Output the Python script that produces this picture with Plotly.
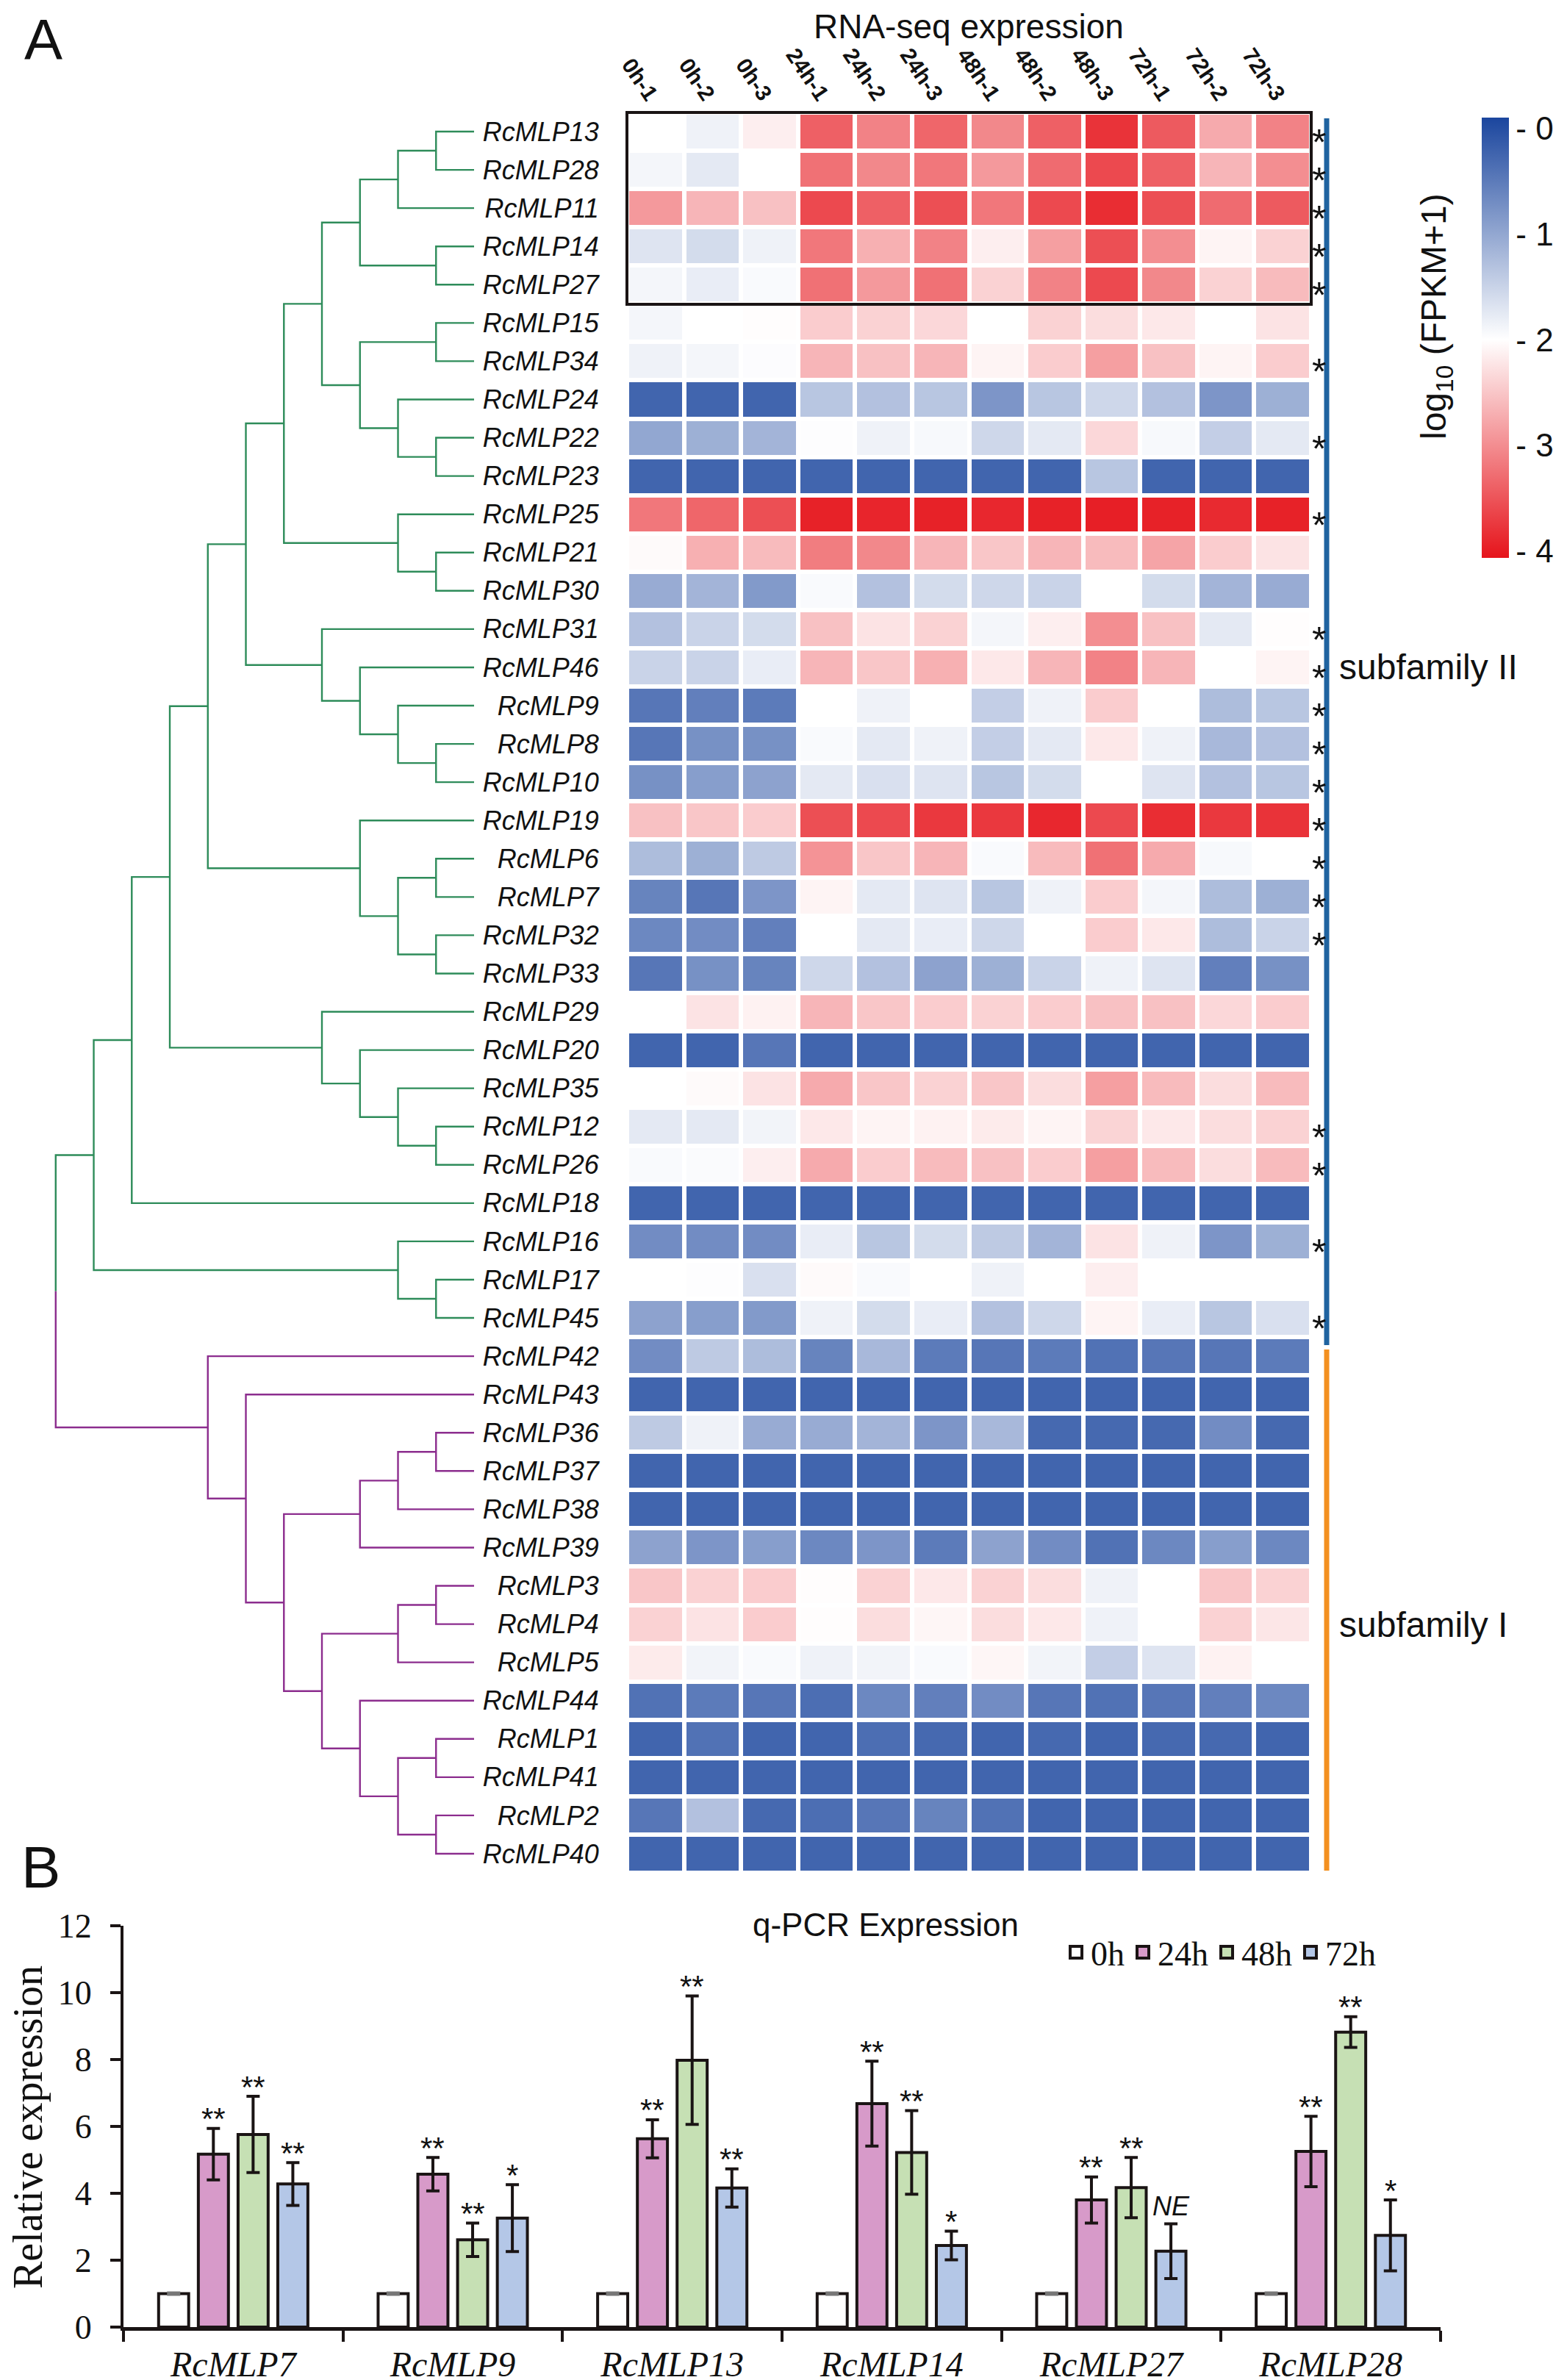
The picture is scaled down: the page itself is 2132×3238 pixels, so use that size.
import plotly.graph_objects as go

W, H = 2132, 3238
def px(x):
    return x / W
def py(y):
    return 1 - y / H

SANS = "Liberation Sans, Arial, sans-serif"
SERIF = "Liberation Serif, Times New Roman, serif"

# ---------------- Panel A data ----------------
samples = ["0h-1", "0h-2", "0h-3", "24h-1", "24h-2", "24h-3",
           "48h-1", "48h-2", "48h-3", "72h-1", "72h-2", "72h-3"]

genes = ["RcMLP13", "RcMLP28", "RcMLP11", "RcMLP14", "RcMLP27", "RcMLP15", "RcMLP34",
         "RcMLP24", "RcMLP22", "RcMLP23", "RcMLP25", "RcMLP21", "RcMLP30", "RcMLP31",
         "RcMLP46", "RcMLP9", "RcMLP8", "RcMLP10", "RcMLP19", "RcMLP6", "RcMLP7",
         "RcMLP32", "RcMLP33", "RcMLP29", "RcMLP20", "RcMLP35", "RcMLP12", "RcMLP26",
         "RcMLP18", "RcMLP16", "RcMLP17", "RcMLP45", "RcMLP42", "RcMLP43", "RcMLP36",
         "RcMLP37", "RcMLP38", "RcMLP39", "RcMLP3", "RcMLP4", "RcMLP5", "RcMLP44",
         "RcMLP1", "RcMLP41", "RcMLP2", "RcMLP40"]

# log10(FPKM+1), one row per gene (same order as genes)
log_fpkm = [
    [2.00, 1.85, 2.15, 3.40, 3.10, 3.35, 3.05, 3.40, 3.80, 3.45, 2.75, 3.10],  # 13
    [1.90, 1.75, 2.00, 3.25, 3.05, 3.20, 2.90, 3.30, 3.60, 3.40, 2.65, 3.00],  # 28
    [2.90, 2.65, 2.55, 3.60, 3.40, 3.55, 3.20, 3.60, 3.85, 3.55, 3.30, 3.45],  # 11
    [1.70, 1.60, 1.85, 3.20, 2.70, 3.10, 2.15, 2.85, 3.55, 3.00, 2.10, 2.40],  # 14
    [1.90, 1.80, 1.95, 3.25, 2.90, 3.25, 2.40, 3.10, 3.60, 3.05, 2.40, 2.60],  # 27
    [1.90, 2.00, 2.02, 2.45, 2.40, 2.35, 2.00, 2.40, 2.30, 2.20, 2.00, 2.25],  # 15
    [1.85, 1.90, 1.97, 2.65, 2.55, 2.65, 2.10, 2.45, 2.85, 2.55, 2.10, 2.45],  # 34
    [0.25, 0.25, 0.25, 1.35, 1.30, 1.35, 0.80, 1.35, 1.55, 1.30, 0.80, 1.10],  # 24
    [1.00, 1.10, 1.15, 1.98, 1.85, 1.93, 1.55, 1.75, 2.35, 1.93, 1.45, 1.75],  # 22
    [0.25, 0.25, 0.25, 0.25, 0.25, 0.25, 0.25, 0.25, 1.35, 0.25, 0.25, 0.25],  # 23
    [3.20, 3.35, 3.55, 3.95, 3.92, 3.95, 3.90, 3.95, 3.97, 3.95, 3.88, 3.95],  # 25
    [2.05, 2.70, 2.60, 3.15, 3.05, 2.65, 2.50, 2.65, 2.60, 2.80, 2.45, 2.25],  # 21
    [1.05, 1.15, 0.85, 1.95, 1.30, 1.60, 1.55, 1.50, 2.00, 1.60, 1.15, 1.05],  # 30
    [1.30, 1.50, 1.60, 2.55, 2.25, 2.40, 1.90, 2.15, 3.00, 2.55, 1.75, 2.02],  # 31
    [1.50, 1.50, 1.80, 2.65, 2.50, 2.70, 2.20, 2.65, 3.10, 2.65, 2.00, 2.10],  # 46
    [0.45, 0.55, 0.50, 2.00, 1.85, 2.00, 1.45, 1.85, 2.45, 2.00, 1.25, 1.35],  # 9
    [0.45, 0.75, 0.75, 1.95, 1.75, 1.85, 1.45, 1.75, 2.20, 1.85, 1.20, 1.30],  # 8
    [0.75, 0.90, 0.95, 1.75, 1.65, 1.70, 1.35, 1.60, 2.00, 1.70, 1.30, 1.35],  # 10
    [2.55, 2.50, 2.45, 3.55, 3.60, 3.75, 3.75, 3.90, 3.60, 3.85, 3.75, 3.80],  # 19
    [1.25, 1.10, 1.40, 2.95, 2.50, 2.65, 1.95, 2.60, 3.25, 2.75, 1.93, 2.00],  # 6
    [0.60, 0.45, 0.80, 2.10, 1.75, 1.70, 1.35, 1.85, 2.45, 1.90, 1.25, 1.10],  # 7
    [0.65, 0.70, 0.55, 2.00, 1.75, 1.80, 1.55, 2.00, 2.45, 2.20, 1.25, 1.50],  # 32
    [0.45, 0.75, 0.60, 1.55, 1.30, 0.95, 1.10, 1.50, 1.85, 1.70, 0.55, 0.75],  # 33
    [2.00, 2.25, 2.12, 2.65, 2.50, 2.45, 2.40, 2.45, 2.55, 2.55, 2.35, 2.45],  # 29
    [0.25, 0.25, 0.45, 0.25, 0.25, 0.25, 0.25, 0.25, 0.25, 0.25, 0.25, 0.25],  # 20
    [2.00, 2.05, 2.25, 2.75, 2.50, 2.40, 2.50, 2.30, 2.85, 2.60, 2.30, 2.60],  # 35
    [1.75, 1.75, 1.88, 2.20, 2.10, 2.12, 2.18, 2.10, 2.38, 2.20, 2.30, 2.40],  # 12
    [1.95, 1.96, 2.15, 2.75, 2.45, 2.60, 2.55, 2.45, 2.85, 2.60, 2.30, 2.60],  # 26
    [0.25, 0.25, 0.25, 0.25, 0.25, 0.25, 0.25, 0.25, 0.25, 0.25, 0.25, 0.25],  # 18
    [0.70, 0.70, 0.70, 1.80, 1.35, 1.60, 1.40, 1.15, 2.25, 1.85, 0.80, 1.10],  # 16
    [2.00, 1.98, 1.65, 2.05, 1.95, 2.00, 1.85, 2.00, 2.15, 2.00, 2.00, 2.00],  # 17
    [0.95, 0.90, 0.85, 1.85, 1.60, 1.80, 1.30, 1.55, 2.10, 1.80, 1.35, 1.65],  # 45
    [0.70, 1.40, 1.25, 0.60, 1.20, 0.50, 0.45, 0.50, 0.40, 0.45, 0.45, 0.50],  # 42
    [0.25, 0.25, 0.25, 0.25, 0.25, 0.25, 0.25, 0.25, 0.25, 0.25, 0.25, 0.25],  # 43
    [1.40, 1.85, 1.05, 1.05, 1.15, 0.80, 1.20, 0.30, 0.30, 0.30, 0.70, 0.30],  # 36
    [0.25, 0.25, 0.25, 0.25, 0.25, 0.25, 0.25, 0.25, 0.25, 0.25, 0.25, 0.25],  # 37
    [0.25, 0.25, 0.25, 0.25, 0.25, 0.25, 0.25, 0.25, 0.25, 0.25, 0.25, 0.25],  # 38
    [0.95, 0.80, 0.90, 0.65, 0.80, 0.50, 0.95, 0.70, 0.40, 0.65, 0.90, 0.65],  # 39
    [2.50, 2.40, 2.45, 2.02, 2.40, 2.20, 2.40, 2.30, 1.85, 2.00, 2.50, 2.40],  # 3
    [2.40, 2.25, 2.45, 2.02, 2.30, 2.08, 2.30, 2.20, 1.85, 2.00, 2.40, 2.22],  # 4
    [2.18, 1.88, 1.95, 1.85, 1.88, 1.95, 2.08, 1.88, 1.45, 1.70, 2.12, 2.00],  # 5
    [0.40, 0.50, 0.45, 0.35, 0.65, 0.55, 0.70, 0.45, 0.40, 0.45, 0.55, 0.65],  # 44
    [0.25, 0.40, 0.25, 0.25, 0.35, 0.30, 0.25, 0.30, 0.25, 0.30, 0.30, 0.25],  # 1
    [0.25, 0.25, 0.25, 0.25, 0.25, 0.25, 0.25, 0.25, 0.25, 0.25, 0.25, 0.25],  # 41
    [0.45, 1.30, 0.30, 0.35, 0.45, 0.60, 0.40, 0.25, 0.25, 0.25, 0.25, 0.25],  # 2
    [0.25, 0.25, 0.25, 0.25, 0.25, 0.25, 0.25, 0.25, 0.25, 0.25, 0.25, 0.25],  # 40
]

# genes marked with "*"
starred = ["RcMLP13", "RcMLP28", "RcMLP11", "RcMLP14", "RcMLP27", "RcMLP34", "RcMLP22",
           "RcMLP25", "RcMLP31", "RcMLP46", "RcMLP9", "RcMLP8", "RcMLP10", "RcMLP19",
           "RcMLP6", "RcMLP7", "RcMLP32", "RcMLP12", "RcMLP26", "RcMLP16", "RcMLP45"]

# dendrogram nodes: (left, right, level)
n_A = (("RcMLP13", "RcMLP28", 1), "RcMLP11", 2)
n_D = (n_A, ("RcMLP14", "RcMLP27", 1), 3)
n_H = (("RcMLP15", "RcMLP34", 1), ("RcMLP24", ("RcMLP22", "RcMLP23", 1), 2), 3)
n_I = (n_D, n_H, 4)
n_K = ("RcMLP25", ("RcMLP21", "RcMLP30", 1), 2)
n_L = (n_I, n_K, 5)
n_Q = ("RcMLP31", ("RcMLP46", ("RcMLP9", ("RcMLP8", "RcMLP10", 1), 2), 3), 4)
n_M = (n_L, n_Q, 6)
n_U = ("RcMLP19", (("RcMLP6", "RcMLP7", 1), ("RcMLP32", "RcMLP33", 1), 2), 3)
n_V = (n_M, n_U, 7)
n_Z = ("RcMLP29", ("RcMLP20", ("RcMLP35", ("RcMLP12", "RcMLP26", 1), 2), 3), 4)
n_AB = ((n_V, n_Z, 8), "RcMLP18", 9)
n_AC = ("RcMLP16", ("RcMLP17", "RcMLP45", 1), 2)
sub2_tree = (n_AB, n_AC, 10)

s_3 = ((("RcMLP36", "RcMLP37", 1), "RcMLP38", 2), "RcMLP39", 3)
s_5 = (("RcMLP3", "RcMLP4", 1), "RcMLP5", 2)
s_9 = ("RcMLP44", (("RcMLP1", "RcMLP41", 1), ("RcMLP2", "RcMLP40", 1), 2), 3)
s_11 = (s_3, (s_5, s_9, 4), 5)
sub1_tree = ("RcMLP42", ("RcMLP43", s_11, 6), 7)
root_level = 11

# ---------------- Panel B data ----------------
qpcr_genes = ["RcMLP7", "RcMLP9", "RcMLP13", "RcMLP14", "RcMLP27", "RcMLP28"]
times = ["0h", "24h", "48h", "72h"]
expr_0h = [1, 1, 1, 1, 1, 1]
expr_24h = [5.17, 4.57, 5.63, 6.68, 3.80, 5.25]
expr_48h = [5.76, 2.61, 7.98, 5.22, 4.17, 8.82]
expr_72h = [4.28, 3.26, 4.16, 2.44, 2.27, 2.74]
err_0h = [0.02, 0.02, 0.02, 0.02, 0.02, 0.02]
err_24h = [0.77, 0.50, 0.57, 1.27, 0.69, 1.05]
err_48h = [1.14, 0.50, 1.92, 1.25, 0.90, 0.46]
err_72h = [0.64, 1.00, 0.57, 0.43, 0.82, 1.06]
sig_24h = ["**", "**", "**", "**", "**", "**"]
sig_48h = ["**", "**", "**", "**", "**", "**"]
sig_72h = ["**", "*", "**", "*", "NE", "*"]
bar_colors = ["#ffffff", "#d79ac9", "#c6e0b4", "#b4c7e7"]

fig = go.Figure()

# ---------------- Heatmap ----------------
rows = list(range(len(genes)))
cols = list(range(len(samples)))
z_neg = [[-v for v in r] for r in log_fpkm]
fig.add_trace(go.Heatmap(
    z=z_neg, x=cols, y=rows, customdata=log_fpkm,
    hovertemplate="%{customdata:.2f}<extra></extra>",
    zmin=-4.07, zmax=0.1,
    colorscale=[[0, "#e6141b"], [0.496, "#ffffff"], [1, "#1b469e"]],
    xgap=6, ygap=6,
    xaxis="x", yaxis="y",
    colorbar=dict(
        x=px(2008), xanchor="left", y=py(452), yanchor="middle",
        len=599, lenmode="pixels", thickness=37, thicknessmode="pixels",
        outlinewidth=0, xpad=0, ypad=0,
        tickmode="array", tickvals=[0, -1, -2, -3, -4],
        ticktext=["- 0", "- 1", "- 2", "- 3", "- 4"],
        ticks="", tickfont=dict(family=SANS, size=44, color="#111"),
    ),
))

# ---------------- Dendrogram ----------------
def build(node, xs, ys):
    if isinstance(node, str):
        return genes.index(node), 0
    a, b, h = node
    ya, la = build(a, xs, ys)
    yb, lb = build(b, xs, ys)
    xs += [la, h, h, lb, None]
    ys += [ya, ya, yb, yb, None]
    return (ya + yb) / 2, h

gx, gy, mx, my = [], [], [], []
y2, l2 = build(sub2_tree, gx, gy)
y1, l1 = build(sub1_tree, mx, my)
ymid = (y1 + y2) / 2
gx += [l2, root_level, root_level, None]
gy += [y2, y2, ymid, None]
mx += [l1, root_level, root_level, None]
my += [y1, y1, ymid, None]
fig.add_trace(go.Scatter(x=gx, y=gy, mode="lines", line=dict(color="#2e8c5a", width=2.4),
                         xaxis="x2", yaxis="y2", showlegend=False, hoverinfo="skip"))
fig.add_trace(go.Scatter(x=mx, y=my, mode="lines", line=dict(color="#8c2d8e", width=2.4),
                         xaxis="x2", yaxis="y2", showlegend=False, hoverinfo="skip"))

# ---------------- Panel B bars ----------------
slot = 0.181
bw = 0.137
series = [(expr_0h, err_0h, None), (expr_24h, err_24h, sig_24h),
          (expr_48h, err_48h, sig_48h), (expr_72h, err_72h, sig_72h)]
annotations = []
for k, (vals, errs, sigs) in enumerate(series):
    xpos = [i + (k - 1.5) * slot for i in range(len(qpcr_genes))]
    fig.add_trace(go.Bar(
        x=xpos, y=vals, width=bw, name=times[k],
        marker=dict(color=bar_colors[k], line=dict(color="#1a1414", width=4)),
        error_y=dict(type="data", array=errs, visible=True,
                     color="#777777" if k == 0 else "#1a1414", thickness=4, width=9),
        xaxis="x3", yaxis="y3", showlegend=False,
    ))
    fig.add_trace(go.Scatter(
        x=[None], y=[None], mode="markers", name=times[k],
        marker=dict(symbol="square", size=22, color=bar_colors[k],
                    line=dict(color="#1a1414", width=4)),
        xaxis="x3", yaxis="y3", showlegend=True,
    ))
    if sigs:
        for xp, v, e, s in zip(xpos, vals, errs, sigs):
            if s == "NE":
                annotations.append(dict(x=xp, y=v + e, xref="x3", yref="y3", text="<i>NE</i>",
                                        showarrow=False, xanchor="center", yanchor="middle",
                                        yshift=24, font=dict(family=SANS, size=36, color="#111")))
            else:
                annotations.append(dict(x=xp, y=v + e, xref="x3", yref="y3", text=s,
                                        showarrow=False, xanchor="center", yanchor="middle",
                                        yshift=13, font=dict(family=SANS, size=42, color="#111")))

# asterisks beside heatmap rows
for g in starred:
    annotations.append(dict(x=px(1786), y=genes.index(g), xref="paper", yref="y", text="*",
                            showarrow=False, xanchor="center", yanchor="middle", yshift=-15,
                            font=dict(family=SANS, size=50, color="#111")))

def ptext(x, y, text, size, family=SANS, xanchor="center", yanchor="middle", angle=0):
    return dict(x=px(x), y=py(y), xref="paper", yref="paper", text=text, showarrow=False,
                xanchor=xanchor, yanchor=yanchor, textangle=angle,
                font=dict(family=family, size=size, color="#111"))

annotations += [
    ptext(51, 0, "A", 78, yanchor="top"),
    ptext(47, 2532, "B", 80),
    ptext(1310, 0, "RNA-seq expression", 46, yanchor="top"),
    ptext(1946, 423, "log<sub>10</sub> (FPKM+1)", 48, angle=-90),
    ptext(1812, 900, "subfamily II", 48, xanchor="left"),
    ptext(1812, 2202, "subfamily I", 48, xanchor="left"),
    ptext(1197, 2610, "q-PCR Expression", 44),
    ptext(30, 2886, "Relative expression", 56, family=SERIF, angle=-90),
]

shapes = [
    dict(type="rect", xref="paper", yref="paper", x0=px(845), x1=px(1776),
         y0=py(145), y1=py(406), line=dict(color="#1a1414", width=4)),
    dict(type="line", xref="paper", yref="paper", x0=px(1797), x1=px(1797),
         y0=py(153), y1=py(1822), line=dict(color="#1f63a0", width=7)),
    dict(type="line", xref="paper", yref="paper", x0=px(1797), x1=px(1797),
         y0=py(1828), y1=py(2537), line=dict(color="#f39020", width=7)),
]

hm_ydom = [py(2540), py(145)]
fig.update_layout(
    width=W, height=H, margin=dict(l=0, r=0, t=0, b=0),
    paper_bgcolor="white", plot_bgcolor="white",
    barmode="overlay",
    annotations=annotations, shapes=shapes,
    xaxis=dict(domain=[px(845), px(1776)], range=[-0.5, 11.5], side="top",
               tickmode="array", tickvals=cols, ticktext=samples, tickangle=56,
               tickfont=dict(family=SANS, size=30, color="#111", weight="bold"),
               showgrid=False, zeroline=False, showline=False, ticks="", automargin=False,
               anchor="y"),
    yaxis=dict(domain=hm_ydom, range=[45.5, -0.5], tickmode="array", tickvals=rows,
               ticktext=genes, tickfont=dict(family=SANS, size=36, color="#111", style="italic"),
               ticks="outside", ticklen=30, tickcolor="rgba(0,0,0,0)",
               showgrid=False, zeroline=False, showline=False, automargin=False, anchor="x"),
    xaxis2=dict(domain=[0, px(637)], range=[12.31, 0], visible=False, anchor="y2"),
    yaxis2=dict(domain=hm_ydom, range=[45.5, -0.5], visible=False, anchor="x2"),
    xaxis3=dict(domain=[px(160), px(1952)], range=[-0.5, 5.5], anchor="y3",
                tickmode="array", tickvals=list(range(len(qpcr_genes))), ticktext=qpcr_genes,
                tickfont=dict(family=SERIF, size=48, color="#111", style="italic"),
                ticks="", ticklabelstandoff=4,
                minor=dict(tickmode="array", tickvals=[i - 0.5 for i in range(len(qpcr_genes) + 1)],
                           ticks="outside", ticklen=15, tickwidth=4, tickcolor="#1a1414"),
                showline=True, linewidth=5, linecolor="#1a1414",
                showgrid=False, zeroline=False, automargin=False),
    yaxis3=dict(domain=[py(3158), py(2612)], range=[0, 12], anchor="x3",
                tickmode="array", tickvals=[0, 2, 4, 6, 8, 10, 12],
                tickfont=dict(family=SERIF, size=46, color="#111"),
                ticks="outside", ticklen=14, tickwidth=4, tickcolor="#1a1414",
                ticklabelstandoff=16,
                showline=True, linewidth=4, linecolor="#1a1414",
                showgrid=False, zeroline=False, automargin=False),
    legend=dict(x=px(1436), y=py(2648), xanchor="left", yanchor="middle",
                orientation="h", font=dict(family=SERIF, size=46, color="#111"),
                bgcolor="rgba(0,0,0,0)", itemwidth=30, tracegroupgap=0),
)

fig.write_html("out.html", config={"displayModeBar": False})
